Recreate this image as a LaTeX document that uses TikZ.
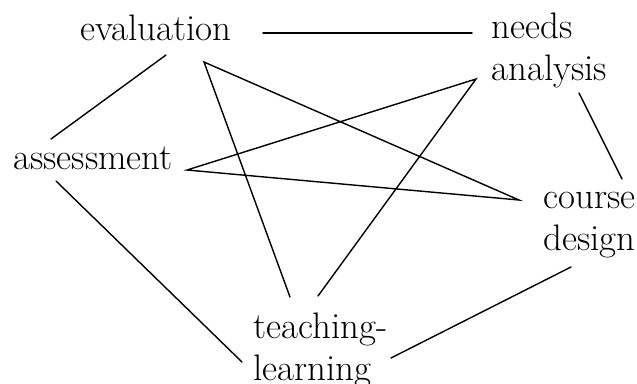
\documentclass[tikz,border=0pt]{standalone}
\usepackage{fontspec}
\usetikzlibrary{calc}
\begin{document}
\begin{tikzpicture}[x=0.02cm,y=-0.02cm,
  stage/.style={inner sep=0,anchor=base west,align=left,font=\fontsize{21}{23.9}\selectfont},
  link/.style={line width=0.8pt,line cap=round}]
  \useasboundingbox (0,0) rectangle (637,383);
  % the five stages (base west sits on the last line)
  \node[stage] (eval) at (80,40) {evaluation};
  \node[stage] (needs) at (491,80) {needs\\analysis};
  \node[stage] (assess) at (13,169) {assessment};
  \node[stage] (course) at (543,250) {course\\design};
  \node[stage] (teach) at (253,380) {teaching-\\learning};
  % outer ring
  \draw[link] ($(eval.base west)+(183,-7)$) -- ($(needs.base west)+(-19,-47)$);
  \draw[link] ($(eval.base west)+(86,15)$) -- ($(assess.base west)+(38,-30)$);
  \draw[link] ($(needs.base west)+(88,13)$) -- ($(course.base west)+(79,-71)$);
  \draw[link] ($(assess.base west)+(43,12)$) -- ($(teach.base west)+(-11,-18)$);
  \draw[link] ($(course.base west)+(28,17)$) -- ($(teach.base west)+(138,-22)$);
  % inner star
  \draw[link] ($(teach.base west)+(37,-83)$) -- ($(eval.base west)+(124,22)$)
    -- ($(course.base west)+(-24,-50)$) -- ($(assess.base west)+(174,1)$)
    -- ($(needs.base west)+(-15,-1)$) -- ($(teach.base west)+(65,-84)$);
\end{tikzpicture}
\end{document}
